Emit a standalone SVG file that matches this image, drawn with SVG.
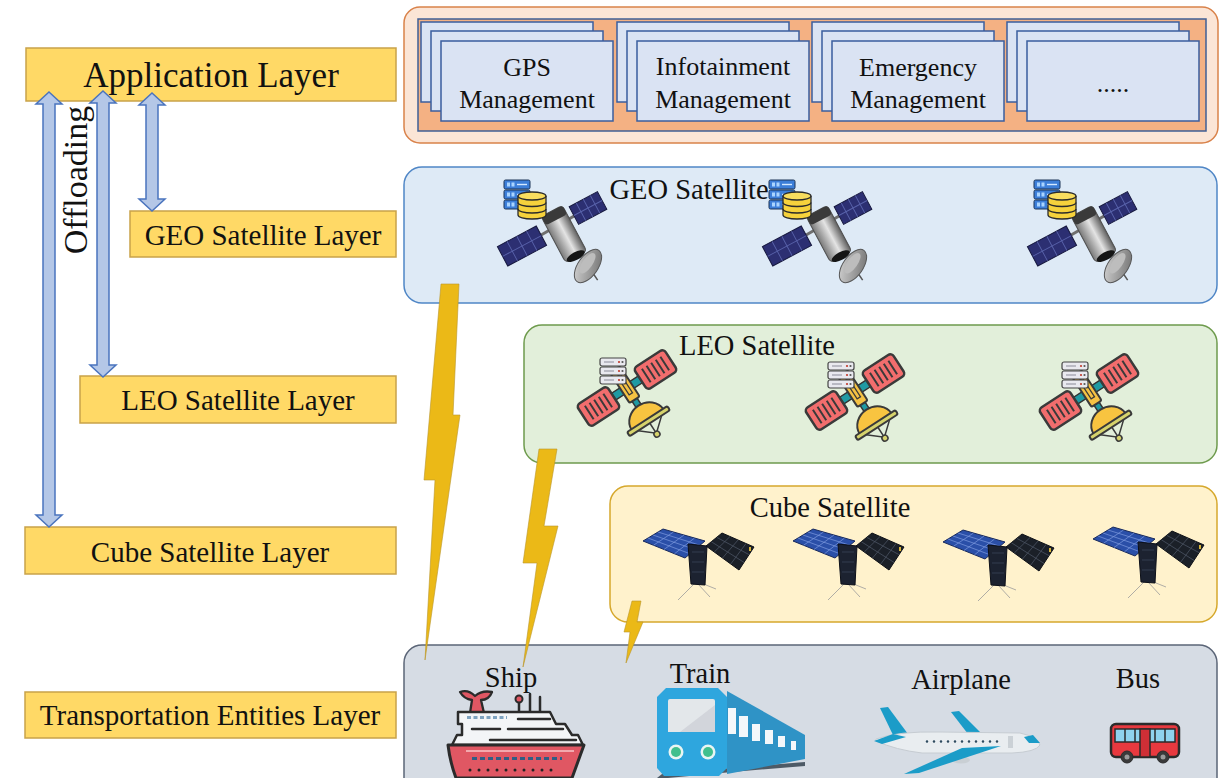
<svg xmlns="http://www.w3.org/2000/svg" width="1221" height="778" viewBox="0 0 1221 778">
  <style>
    .serif { font-family: "Liberation Serif", "Times New Roman", serif; fill: #111; }
    .layer rect { fill: #FFD966; stroke: #C9A24A; stroke-width: 1.5; }
    .layer text { font-size: 29px; text-anchor: middle; }
    .card { fill: #DAE3F3; stroke: #3A5E9E; stroke-width: 1.5; }
    .cardtxt { font-size: 26px; text-anchor: middle; }
    .title { font-size: 28.5px; text-anchor: middle; }
    .vlabel { font-size: 28.5px; text-anchor: middle; }
    .arrow { fill: #B4C7E7; stroke: #4A74BE; stroke-width: 1.5; stroke-linejoin: miter; }
    .bolt { fill: #EBB917; stroke: #B9962C; stroke-width: 0.6; }
    .ink { stroke: #2B2B2B; stroke-linejoin: round; stroke-linecap: round; }
  </style>
  <defs>
    <linearGradient id="geoBody" x1="0" y1="0" x2="0" y2="1">
      <stop offset="0" stop-color="#5f5f5f"/>
      <stop offset="0.45" stop-color="#e4e4e4"/>
      <stop offset="1" stop-color="#7a7a7a"/>
    </linearGradient>
    <linearGradient id="dishGrad" x1="0" y1="0" x2="1" y2="1">
      <stop offset="0" stop-color="#d8d8d8"/>
      <stop offset="1" stop-color="#6c6c6c"/>
    </linearGradient>

    <!-- blue rack unit + yellow database, used on the GEO satellites -->
    <g id="rackBlue">
      <rect x="0" y="0" width="26" height="9" rx="1.5" fill="#3C7ED8" stroke="#1D3557" stroke-width="1"/>
      <rect x="3" y="2.5" width="3" height="4" fill="#A9D4FF"/>
      <rect x="7.5" y="2.5" width="3" height="4" fill="#A9D4FF"/>
      <line x1="13" y1="4.5" x2="23" y2="4.5" stroke="#D4E9FF" stroke-width="1.4"/>
    </g>
    <g id="database">
      <path d="M0,4 V23 A14,4 0 0 0 28,23 V4" fill="#F6D23C" stroke="#2B2B2B" stroke-width="1.3"/>
      <path d="M0,10.5 A14,4 0 0 0 28,10.5 M0,17 A14,4 0 0 0 28,17" fill="none" stroke="#2B2B2B" stroke-width="1.3"/>
      <ellipse cx="14" cy="4" rx="14" ry="4" fill="#F9DD5E" stroke="#2B2B2B" stroke-width="1.3"/>
    </g>

    <!-- GEO satellite: origin at the top-left of the rack -->
    <g id="geoSat">
      <line x1="18" y1="66" x2="84" y2="28" stroke="#6f6f6f" stroke-width="3"/>
      <g transform="translate(18,66) rotate(-28)">
        <rect x="-22" y="-11" width="44" height="22" fill="#2C2F72" stroke="#17193F" stroke-width="1"/>
        <path d="M-11,-11V11M0,-11V11M11,-11V11M-22,0H22" stroke="#5862AA" stroke-width="0.9"/>
      </g>
      <g transform="translate(84,28) rotate(-28)">
        <rect x="-16" y="-10" width="32" height="20" fill="#2C2F72" stroke="#17193F" stroke-width="1"/>
        <path d="M-8,-10V10M0,-10V10M8,-10V10M-16,0H16" stroke="#5862AA" stroke-width="0.9"/>
      </g>
      <g transform="translate(84,86) rotate(-55)">
        <line x1="0" y1="0" x2="-6" y2="16" stroke="#555" stroke-width="1.5"/>
        <ellipse rx="19" ry="10" fill="url(#dishGrad)" stroke="#555" stroke-width="1"/>
        <ellipse cx="2" cy="-2" rx="12" ry="5" fill="#bdbdbd"/>
      </g>
      <g transform="translate(60,54) rotate(62)">
        <rect x="-26" y="-12" width="52" height="24" rx="4" fill="url(#geoBody)" stroke="#4f4f4f" stroke-width="1"/>
        <rect x="-26" y="-12" width="10" height="24" rx="3" fill="#3a3a3a"/>
        <ellipse cx="25" cy="0" rx="4" ry="10" fill="#151515"/>
      </g>
      <use href="#rackBlue" x="0" y="0"/>
      <use href="#rackBlue" x="0" y="10"/>
      <use href="#rackBlue" x="0" y="20"/>
      <use href="#database" x="14" y="12"/>
    </g>

    <!-- LEO satellite: origin at the top-left of the rack -->
    <g id="rackGray">
      <rect x="0" y="0" width="26" height="8" rx="2" fill="#E9E9EF" stroke="#444" stroke-width="1.2"/>
      <line x1="4" y1="4" x2="14" y2="4" stroke="#9a9aa6" stroke-width="1.2"/>
      <circle cx="19" cy="4" r="1.1" fill="#c0392b"/>
      <circle cx="22.5" cy="4" r="1.1" fill="#555"/>
    </g>
    <g id="leoPanel">
      <rect x="-18" y="-13" width="36" height="26" rx="4" fill="#F26D6D" stroke="#3A3A3A" stroke-width="2.5"/>
      <path d="M-11,-8V8M-5.5,-8V8M0,-8V8M5.5,-8V8M11,-8V8" stroke="#3A3A3A" stroke-width="2"/>
    </g>
    <g id="leoSat">
      <g transform="translate(27,30) rotate(-33)">
        <rect x="-16" y="-4" width="32" height="8" fill="#1F9AA3" stroke="#333" stroke-width="1.5"/>
        <use href="#leoPanel" x="-34" y="0"/>
        <use href="#leoPanel" x="34" y="0"/>
        <rect x="-3" y="12" width="6" height="11" fill="#1F9AA3" stroke="#333" stroke-width="1.5"/>
        <rect x="-6" y="-22" width="12" height="36" rx="2" fill="#F5C244" stroke="#3A3A3A" stroke-width="2"/>
        <rect x="-2" y="-15" width="4" height="22" fill="none" stroke="#3A3A3A" stroke-width="1.3"/>
        <path d="M-14,42 L0,54 L14,42 M0,42 V54" fill="none" stroke="#3A3A3A" stroke-width="1.5"/>
        <path d="M-19,38 A19,17 0 0 1 19,38 Z" fill="#F8C440" stroke="#3A3A3A" stroke-width="2"/>
        <rect x="-24" y="37" width="48" height="5" rx="2" fill="#D6D36C" stroke="#3A3A3A" stroke-width="2"/>
        <circle cx="0" cy="55" r="3" fill="#D6D36C" stroke="#3A3A3A" stroke-width="1.5"/>
      </g>
      <use href="#rackGray" x="0" y="0"/>
      <use href="#rackGray" x="0" y="9"/>
      <use href="#rackGray" x="0" y="18"/>
    </g>

    <!-- CubeSat -->
    <g id="cubeSat">
      <path d="M52,56 L35,73 M58,56 L73,62 M55,57 L67,70" stroke="#9a9a9a" stroke-width="0.8"/>
      <polygon points="0,14 20,2 62,14 42,31" fill="#2A4FA8" stroke="#1A2B5C" stroke-width="1"/>
      <path d="M10.5,18.25 L30.5,5 M21,22.5 L41,8 M31.5,26.75 L51.5,11 M10,8 L52,22.5 M5,11 L47,26.75 M15,5 L57,18.25" stroke="#7E9BE0" stroke-width="0.7"/>
      <polygon points="63,19 79,6 111,20 96,43" fill="#1B2028" stroke="#0E1116" stroke-width="1"/>
      <path d="M71.25,25 L87,9.5 M79.5,31 L95,13 M87.75,37 L103,16.5 M68.3,14.7 L101,35.4 M73.7,10.3 L106,27.6" stroke="#4A5362" stroke-width="0.8"/>
      <rect x="106" y="20" width="2" height="4" fill="#d6b43a"/>
      <polygon points="45,17 64,19 62,58 48,57" fill="#1C2230" stroke="#0C0F18" stroke-width="1"/>
      <path d="M49,25 H61 M49,35 H61 M49,45 H61" stroke="#3a4458" stroke-width="0.8"/>
    </g>
  </defs>

  <!-- layer labels (left column) -->
  <g id="app-layer" class="layer">
    <rect x="26" y="48" width="370" height="53"/>
    <text class="serif" x="211" y="87" style="font-size:35px">Application Layer</text>
  </g>
  <g id="geo-layer" class="layer">
    <rect x="130" y="211" width="266" height="46"/>
    <text class="serif" x="263" y="245">GEO Satellite Layer</text>
  </g>
  <g id="leo-layer" class="layer">
    <rect x="80" y="376" width="316" height="47"/>
    <text class="serif" x="238" y="410">LEO Satellite Layer</text>
  </g>
  <g id="cube-layer" class="layer">
    <rect x="25" y="527" width="371" height="47"/>
    <text class="serif" x="210" y="562">Cube Satellite Layer</text>
  </g>
  <g id="transport-layer" class="layer">
    <rect x="25" y="692" width="371" height="46"/>
    <text class="serif" x="210" y="725">Transportation Entities Layer</text>
  </g>

  <!-- application services panel -->
  <g id="app-panel">
    <rect x="404" y="7" width="814" height="136" rx="16" fill="#FBE5D6" stroke="#D9824A" stroke-width="1.5"/>
    <rect x="418" y="19" width="788" height="112" fill="#F4B183" stroke="#3F5F96" stroke-width="1.5"/>
  </g>
  <g id="gps-card">
    <rect class="card" x="421" y="22" width="172" height="80"/>
    <rect class="card" x="431" y="31" width="172" height="80"/>
    <rect class="card" x="441" y="41" width="172" height="80"/>
    <text class="serif cardtxt" x="527" y="76">GPS</text>
    <text class="serif cardtxt" x="527" y="108">Management</text>
  </g>
  <g id="infotainment-card">
    <rect class="card" x="617" y="22" width="172" height="80"/>
    <rect class="card" x="627" y="31" width="172" height="80"/>
    <rect class="card" x="637" y="41" width="172" height="80"/>
    <text class="serif cardtxt" x="723" y="75">Infotainment</text>
    <text class="serif cardtxt" x="723" y="108">Management</text>
  </g>
  <g id="emergency-card">
    <rect class="card" x="812" y="22" width="172" height="80"/>
    <rect class="card" x="822" y="31" width="172" height="80"/>
    <rect class="card" x="832" y="41" width="172" height="80"/>
    <text class="serif cardtxt" x="918" y="76">Emergency</text>
    <text class="serif cardtxt" x="918" y="108">Management</text>
  </g>
  <g id="more-card">
    <rect class="card" x="1007" y="22" width="172" height="80"/>
    <rect class="card" x="1017" y="31" width="172" height="80"/>
    <rect class="card" x="1027" y="41" width="172" height="80"/>
    <text class="serif cardtxt" x="1113" y="92">.....</text>
  </g>

  <!-- GEO satellites -->
  <g id="geo-panel">
    <rect x="404" y="167" width="813" height="136" rx="18" fill="#DEEAF6" stroke="#4F86C6" stroke-width="1.5"/>
    <text class="serif title" x="689" y="199">GEO Satellite</text>
    <use href="#geoSat" x="504" y="180"/>
    <use href="#geoSat" x="769" y="180"/>
    <use href="#geoSat" x="1034" y="180"/>
  </g>

  <!-- LEO satellites -->
  <g id="leo-panel">
    <rect x="524" y="325" width="693" height="138" rx="18" fill="#E2EFDA" stroke="#6E9B4D" stroke-width="1.5"/>
    <text class="serif title" x="757" y="355">LEO Satellite</text>
    <use href="#leoSat" x="600" y="358"/>
    <use href="#leoSat" x="828" y="362"/>
    <use href="#leoSat" x="1062" y="362"/>
  </g>

  <!-- CubeSats -->
  <g id="cube-panel">
    <rect x="610" y="486" width="607" height="136" rx="18" fill="#FFF2CC" stroke="#D6A82C" stroke-width="1.5"/>
    <text class="serif title" x="830" y="517">Cube Satellite</text>
    <use href="#cubeSat" x="643" y="527"/>
    <use href="#cubeSat" x="793" y="527"/>
    <use href="#cubeSat" x="943" y="528"/>
    <use href="#cubeSat" x="1093" y="525"/>
  </g>

  <!-- transportation entities -->
  <g id="transport-panel">
    <rect x="404" y="645" width="813" height="160" rx="18" fill="#D6DCE4" stroke="#5B6577" stroke-width="1.5"/>
  </g>
  <g id="ship">
    <text class="serif vlabel" x="511" y="687">Ship</text>
    <path class="ink" d="M460,692 Q468,689 475,696 Q482,690 492,692 Q489,700 481,700 L484,713 L470,713 L472,700 Q464,699 460,692 Z" fill="#E05763" stroke-width="2.3"/>
    <path class="ink" d="M519,703 V713 M530,694 V713 M540,697 V713" stroke-width="2.5"/>
    <circle class="ink" cx="519" cy="699" r="3.5" fill="#E05763" stroke-width="2"/>
    <path class="ink" d="M458,712 H550 L556,724 H565 L572,735 H578 L583,745 H452 L457,735 H462 L462,724 H458 Z" fill="#F3F5F7" stroke-width="2.5"/>
    <path d="M467,717.5 H507" stroke="#7FA3C0" stroke-width="3" stroke-dasharray="4 2.5"/>
    <path class="ink" d="M518,719 H550 M508,729 H563 M490,740 H576 M472,729 H500" stroke-width="2.5"/>
    <path class="ink" d="M448,745 H584 L572,778 H456 Q450,762 448,745 Z" fill="#E05763" stroke-width="3"/>
    <path d="M466,751 H574" stroke="#F2A9AE" stroke-width="2"/>
    <path d="M472,758.5 H562" stroke="#2F5D84" stroke-width="3" stroke-dasharray="5 3"/>
    <path d="M470,770 H552" stroke="#222" stroke-width="3" stroke-linecap="round" stroke-dasharray="0 9"/>
  </g>
  <g id="train">
    <text class="serif vlabel" x="700" y="683">Train</text>
    <polygon points="657,778 662,774 730,768 805,762 805,766 732,772 668,778" fill="#4D5A66"/>
    <polygon points="727,691 805,735 805,759 727,774" fill="#2F93C6"/>
    <g fill="#F4F7FA">
      <rect x="728" y="708" width="8" height="26"/>
      <rect x="739" y="716" width="9" height="21"/>
      <rect x="752" y="724" width="8" height="17"/>
      <rect x="765" y="730" width="8" height="14"/>
      <rect x="778" y="736" width="7" height="11"/>
      <rect x="791" y="741" width="5" height="9"/>
    </g>
    <path d="M666,688 H718 L727,697 V768 L719,776 H664 L657,768 V697 Z" fill="#2EA6DE"/>
    <path d="M670,699 H713 Q715,699 715,701 V732 H668 V701 Q668,699 670,699 Z" fill="#E3E7EA"/>
    <path d="M715,705 V732 H680 Z" fill="#D2D5DB"/>
    <circle cx="676" cy="752" r="7.5" fill="#E9F5F3"/>
    <circle cx="676" cy="752" r="5" fill="#40BF8E"/>
    <circle cx="708" cy="752" r="7.5" fill="#E9F5F3"/>
    <circle cx="708" cy="752" r="5" fill="#40BF8E"/>
  </g>
  <g id="airplane">
    <text class="serif vlabel" x="961" y="689">Airplane</text>
    <polygon points="880,708 888,707 908,734 893,735" fill="#1B9CC8"/>
    <polygon points="951,712 959,711 981,733 968,734" fill="#1B9CC8"/>
    <ellipse cx="961" cy="760" rx="9" ry="3.5" fill="#C9CFD4"/>
    <path d="M876,739 Q898,731 940,732 L1020,733 Q1038,737 1040,745 Q1036,752 1012,753 L922,753 Q896,750 876,741 Z" fill="#E9EDF0" stroke="#C6CCD2" stroke-width="1"/>
    <polygon points="874,741 893,734 906,737 882,744" fill="#1B9CC8"/>
    <polygon points="962,748 1001,746 919,773 904,774" fill="#1B9CC8"/>
    <path d="M927,741.5 H1004" stroke="#2E4A5F" stroke-width="2.6" stroke-linecap="round" stroke-dasharray="0 7"/>
    <rect x="1008" y="736" width="5" height="12" fill="#CBD1D6"/>
    <polygon points="1024,737 1033,735 1040,743 1029,743" fill="#1B9CC8"/>
  </g>
  <g id="bus">
    <text class="serif vlabel" x="1138" y="688">Bus</text>
    <rect x="1111" y="724" width="68" height="33" rx="5" fill="#E8393F" stroke="#2B2B2B" stroke-width="2.5"/>
    <rect x="1115" y="729" width="60" height="13" fill="#8FD3EE" stroke="#2B2B2B" stroke-width="1.5"/>
    <path d="M1125,729 V742 M1135,729 V742 M1155,729 V742 M1165,729 V742" stroke="#2B2B2B" stroke-width="1.5"/>
    <rect x="1140" y="729" width="10" height="28" fill="#CF2F36" stroke="#2B2B2B" stroke-width="1.5"/>
    <circle cx="1127" cy="757" r="6" fill="#3A3A3A" stroke="#2B2B2B" stroke-width="1"/>
    <circle cx="1127" cy="757" r="2.5" fill="#9A9A9A"/>
    <circle cx="1163" cy="757" r="6" fill="#3A3A3A" stroke="#2B2B2B" stroke-width="1"/>
    <circle cx="1163" cy="757" r="2.5" fill="#9A9A9A"/>
  </g>

  <!-- connectors: offloading arrows and wireless links -->
  <g id="connectors">
    <polygon class="arrow" points="49,92 62,104 55,104 55,515 62,515 49,527 36,515 43,515 43,104 36,104"/>
    <polygon class="arrow" points="103,91 116,103 109,103 109,365 116,365 103,377 90,365 97,365 97,103 90,103"/>
    <polygon class="arrow" points="152,93 165,105 158,105 158,199 165,199 152,211 139,199 146,199 146,105 139,105"/>
    <text class="serif" transform="translate(87,180) rotate(-90)" text-anchor="middle" style="font-size:34px">Offloading</text>
    <polygon class="bolt" points="441,284 459,284 453,415 460,415 425,660 435,480 424,480"/>
    <polygon class="bolt" points="539,449 557,449 544,526 558,526 523,667 537,563 523,563"/>
    <polygon class="bolt" points="632,601 641,601 637,622 643,622 626,663 630,632 624,632"/>
  </g>
</svg>
